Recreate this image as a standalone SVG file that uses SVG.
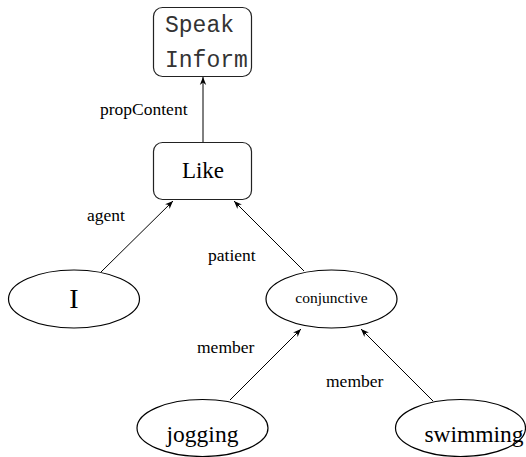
<svg xmlns="http://www.w3.org/2000/svg" width="526" height="457" viewBox="0 0 526 457">
<defs>
<style>
.box{fill:#fff;stroke:#222;stroke-width:1.2}
.ell{fill:#fff;stroke:#000;stroke-width:1.2}
.edge{stroke:#000;stroke-width:1;fill:none}
.lbl{font-family:"Liberation Serif",serif;font-size:17.5px;fill:#000}
.nt{font-family:"Liberation Serif",serif;fill:#000;text-anchor:middle}
.mono{font-family:"Liberation Mono",monospace;font-size:23px;fill:#333}
</style>
<marker id="arr" viewBox="0 0 10 10" refX="10" refY="5" markerWidth="8" markerHeight="8" markerUnits="userSpaceOnUse" orient="auto">
<path d="M0,1 L10,5 L0,9 L3,5 Z" fill="#000"/>
</marker>
</defs>
<g id="connectors">
<line class="edge" x1="203" y1="142" x2="203" y2="77" marker-end="url(#arr)"/>
<line class="edge" x1="101" y1="272" x2="173" y2="201" marker-end="url(#arr)"/>
<line class="edge" x1="304" y1="271" x2="234" y2="201" marker-end="url(#arr)"/>
<line class="edge" x1="230" y1="400" x2="301" y2="329" marker-end="url(#arr)"/>
<line class="edge" x1="433" y1="401" x2="361" y2="329" marker-end="url(#arr)"/>
<text class="lbl" x="100" y="115">propContent</text>
<text class="lbl" x="87" y="221">agent</text>
<text class="lbl" x="208" y="261">patient</text>
<text class="lbl" x="197" y="353">member</text>
<text class="lbl" x="326" y="387">member</text>
</g>
<g id="speak">
<rect class="box" x="153.5" y="7.5" width="98" height="69" rx="9"/>
<text class="mono" x="165" y="32">Speak</text>
<text class="mono" x="165" y="67">Inform</text>
</g>
<g id="like">
<rect class="box" x="153.5" y="142.5" width="98" height="57" rx="9"/>
<text class="nt" x="203" y="178" font-size="23">Like</text>
</g>
<g id="i">
<ellipse class="ell" cx="74" cy="299" rx="65.5" ry="29"/>
<text class="nt" x="74" y="308" font-size="28">I</text>
</g>
<g id="conjunctive">
<ellipse class="ell" cx="331.5" cy="299" rx="65.5" ry="29"/>
<text class="nt" x="331.5" y="303" font-size="15.5">conjunctive</text>
</g>
<g id="jogging">
<ellipse class="ell" cx="202.5" cy="428" rx="65.5" ry="28.5"/>
<text class="nt" x="202.5" y="442" font-size="23.5">jogging</text>
</g>
<g id="swimming">
<ellipse class="ell" cx="460.5" cy="428" rx="65" ry="28.5"/>
<text class="nt" x="474" y="442" font-size="23.5">swimming</text>
</g>
</svg>
